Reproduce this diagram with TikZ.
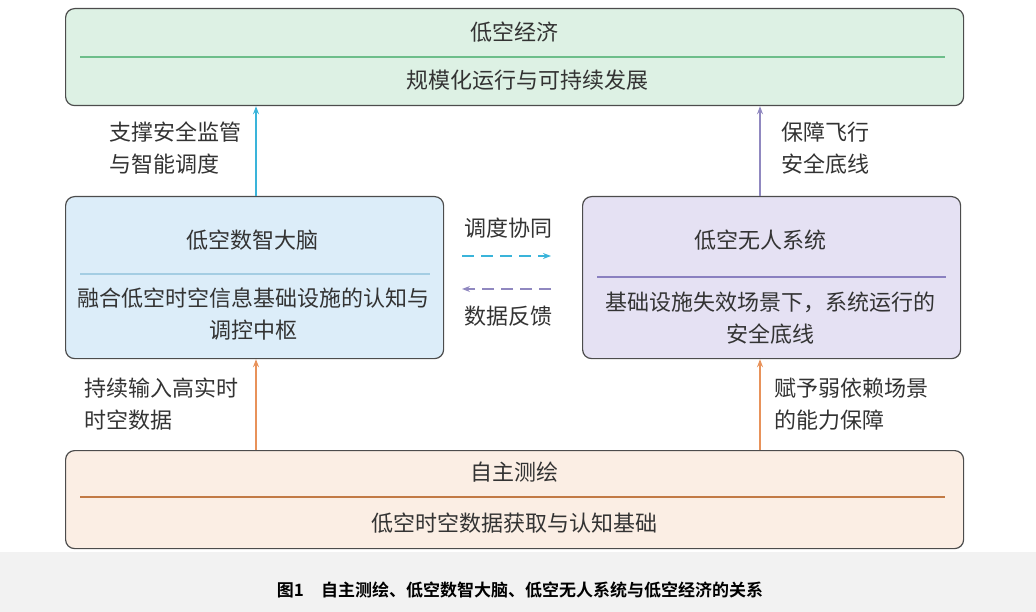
\documentclass[tikz,border=0pt]{standalone}
\usepackage{fontspec}
\setmainfont{Noto Sans CJK SC}
\newfontfamily\capfont{Noto Sans CJK SC Bold}
\usetikzlibrary{arrows.meta, positioning}
\definecolor{ecofill}{HTML}{DDF1E4}
\definecolor{ecoline}{HTML}{6DBE8A}
\definecolor{brainfill}{HTML}{DCEDF9}
\definecolor{brainline}{HTML}{A4CDE3}
\definecolor{uavfill}{HTML}{E5E1F3}
\definecolor{uavline}{HTML}{8A80C0}
\definecolor{mapfill}{HTML}{FBEEE4}
\definecolor{mapline}{HTML}{C27A45}
\definecolor{upcyan}{HTML}{3AB4DA}
\definecolor{uppurple}{HTML}{9088C0}
\definecolor{uporange}{HTML}{E8925A}
\definecolor{txtgray}{HTML}{333333}
\tikzset{
  box/.style={draw=black!70, line width=1.2pt, rounded corners=9pt, anchor=north west},
  txt/.style={inner sep=0pt, text=txtgray, font=\fontsize{22}{32}\selectfont, align=center},
  up/.style={-{Stealth[length=8pt,width=6pt]}, line width=1.4pt},
  flow/.style={-{Stealth[length=8pt,width=6pt]}, line width=1.4pt, dash pattern=on 12pt off 7pt}
}
\begin{document}
\begin{tikzpicture}[x=1pt, y=-1pt]
\useasboundingbox (0,0) rectangle (1036,612);
\fill[black!5] (0,552) rectangle (1036,612);
% boxes
\node[box, fill=ecofill, minimum width=898pt, minimum height=97pt] (eco) at (65,8) {};
\node[box, fill=brainfill, minimum width=378pt, minimum height=162pt] (brain) at (65,196) {};
\node[box, fill=uavfill, minimum width=378pt, minimum height=162pt] (uav) at (582,196) {};
\node[box, fill=mapfill, minimum width=898pt, minimum height=98pt] (map) at (65,450) {};
% separators
\draw[ecoline, line width=1.2pt] (80,57) -- (945,57);
\draw[brainline, line width=1.2pt] (80,274) -- (430,274);
\draw[uavline, line width=1.2pt] (597,277) -- (946,277);
\draw[mapline, line width=1.2pt] (80,497) -- (945,497);
%Text
\node[txt] (ecot) at (514,32) {低空经济};
\node[txt] (ecos) at (527,80) {规模化运行与可持续发展};
\node[txt] (braint) at (252,240) {低空数智大脑};
\node[txt] (brains) at (253,314) {融合低空时空信息基础设施的认知与\\调控中枢};
\node[txt] (uavt) at (760,240) {低空无人系统};
\node[txt] (uavs) at (770,318) {基础设施失效场景下，系统运行的\\安全底线};
\node[txt] (mapt) at (514,472) {自主测绘};
\node[txt] (maps) at (514,523) {低空时空数据获取与认知基础};
\node[txt, align=left] (l1) at (175,148) {支撑安全监管\\与智能调度};
\node[txt, align=left] (l2) at (825,148) {保障飞行\\安全底线};
\node[txt, align=left] (l3) at (161,404) {持续输入高实时\\时空数据};
\node[txt, align=left] (l4) at (851,404) {赋予弱依赖场景\\的能力保障};
\node[txt] (sync) at (508,228) {调度协同};
\node[txt] (feed) at (508,316) {数据反馈};
\node[inner sep=0pt, font=\capfont\fontsize{17}{20}\selectfont] (cap) at (520,590) {图1\quad 自主测绘、低空数智大脑、低空无人系统与低空经济的关系};
% connectors
\coordinate (bl) at (brain.north -| 256,0);
\coordinate (ur) at (uav.north -| 760,0);
\draw[up, upcyan] (bl) -- (bl |- eco.south);
\draw[up, uppurple] (ur) -- (ur |- eco.south);
\draw[up, uporange] (bl |- map.north) -- (bl |- brain.south);
\draw[up, uporange] (ur |- map.north) -- (ur |- uav.south);
\draw[flow, upcyan] (462,256) -- (551,256);
\draw[flow, uppurple] (551,289) -- (462,289);
\end{tikzpicture}
\end{document}
